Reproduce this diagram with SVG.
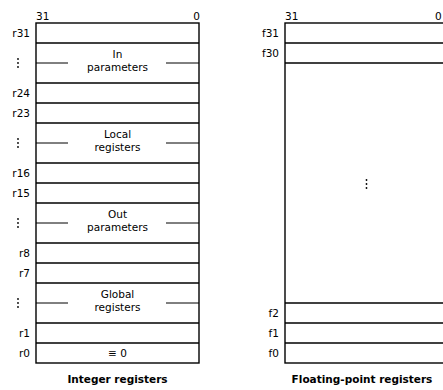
<svg xmlns="http://www.w3.org/2000/svg" width="443" height="390" viewBox="0 0 443 390">
<style>
  .box { fill: #fff; stroke: #000; stroke-width: 1.4; }
  .ln { stroke: #000; stroke-width: 1.3; fill: none; }
  .mid { stroke: #000; stroke-width: 1; fill: none; }
  .t { font-family: "DejaVu Sans", "Liberation Sans", sans-serif; font-size: 10.5px; fill: #000; }
  .c { text-anchor: middle; }
  .r { text-anchor: end; }
  .b { font-family: "DejaVu Sans", "Liberation Sans", sans-serif; font-size: 10.5px; font-weight: bold; fill: #000; text-anchor: middle; }
  .dot { fill: #000; }
</style>
<defs>
  <g id="vdots"><circle class="dot" cx="0" cy="-4" r="0.9"/><circle class="dot" cx="0" cy="0" r="0.9"/><circle class="dot" cx="0" cy="4" r="0.9"/></g>
</defs>
<rect width="443" height="390" fill="#fff"/>

<g id="integer-registers">
  <text class="t" x="36" y="20">31</text>
  <text class="t r" x="200" y="20">0</text>
  <rect class="box" x="36" y="23" width="163" height="340"/>
  <g id="int-rows">
    <line class="ln" x1="36" y1="43" x2="199" y2="43"/>
    <line class="ln" x1="36" y1="83" x2="199" y2="83"/>
    <line class="ln" x1="36" y1="103" x2="199" y2="103"/>
    <line class="ln" x1="36" y1="123" x2="199" y2="123"/>
    <line class="ln" x1="36" y1="163" x2="199" y2="163"/>
    <line class="ln" x1="36" y1="183" x2="199" y2="183"/>
    <line class="ln" x1="36" y1="203" x2="199" y2="203"/>
    <line class="ln" x1="36" y1="243" x2="199" y2="243"/>
    <line class="ln" x1="36" y1="263" x2="199" y2="263"/>
    <line class="ln" x1="36" y1="283" x2="199" y2="283"/>
    <line class="ln" x1="36" y1="323" x2="199" y2="323"/>
    <line class="ln" x1="36" y1="343" x2="199" y2="343"/>
  </g>
  <g id="in-params">
    <line class="mid" x1="36" y1="63" x2="68" y2="63"/>
    <line class="mid" x1="166" y1="63" x2="199" y2="63"/>
    <text class="t c" x="117.5" y="58">In</text>
    <text class="t c" x="117.5" y="71">parameters</text>
  </g>
  <g id="local-regs">
    <line class="mid" x1="36" y1="143" x2="68" y2="143"/>
    <line class="mid" x1="166" y1="143" x2="199" y2="143"/>
    <text class="t c" x="117.5" y="138">Local</text>
    <text class="t c" x="117.5" y="151">registers</text>
  </g>
  <g id="out-params">
    <line class="mid" x1="36" y1="223" x2="68" y2="223"/>
    <line class="mid" x1="166" y1="223" x2="199" y2="223"/>
    <text class="t c" x="117.5" y="218">Out</text>
    <text class="t c" x="117.5" y="231">parameters</text>
  </g>
  <g id="global-regs">
    <line class="mid" x1="36" y1="303" x2="68" y2="303"/>
    <line class="mid" x1="166" y1="303" x2="199" y2="303"/>
    <text class="t c" x="117.5" y="298">Global</text>
    <text class="t c" x="117.5" y="311">registers</text>
  </g>
  <g id="r0">
    <text class="t c" x="117.5" y="357">≡ 0</text>
  </g>
  <g id="int-labels">
    <text class="t r" x="30" y="37">r31</text>
    <use href="#vdots" x="18" y="63"/>
    <text class="t r" x="30" y="97">r24</text>
    <text class="t r" x="30" y="117">r23</text>
    <use href="#vdots" x="18" y="143"/>
    <text class="t r" x="30" y="177">r16</text>
    <text class="t r" x="30" y="197">r15</text>
    <use href="#vdots" x="18" y="223"/>
    <text class="t r" x="30" y="257">r8</text>
    <text class="t r" x="30" y="277">r7</text>
    <use href="#vdots" x="18" y="303"/>
    <text class="t r" x="30" y="337">r1</text>
    <text class="t r" x="30" y="357">r0</text>
  </g>
  <text class="b" x="117.5" y="383">Integer registers</text>
</g>

<g id="float-registers">
  <text class="t" x="285" y="20">31</text>
  <text class="t" x="435" y="20">0</text>
  <rect class="box" x="285" y="23" width="163" height="340"/>
  <line class="ln" x1="285" y1="43" x2="448" y2="43"/>
  <line class="ln" x1="285" y1="63" x2="448" y2="63"/>
  <line class="ln" x1="285" y1="303" x2="448" y2="303"/>
  <line class="ln" x1="285" y1="323" x2="448" y2="323"/>
  <line class="ln" x1="285" y1="343" x2="448" y2="343"/>
  <use href="#vdots" x="366.5" y="184"/>
  <text class="t r" x="279" y="37">f31</text>
  <text class="t r" x="279" y="57">f30</text>
  <text class="t r" x="279" y="317">f2</text>
  <text class="t r" x="279" y="337">f1</text>
  <text class="t r" x="279" y="357">f0</text>
  <text class="b" x="362" y="383">Floating-point registers</text>
</g>
</svg>
